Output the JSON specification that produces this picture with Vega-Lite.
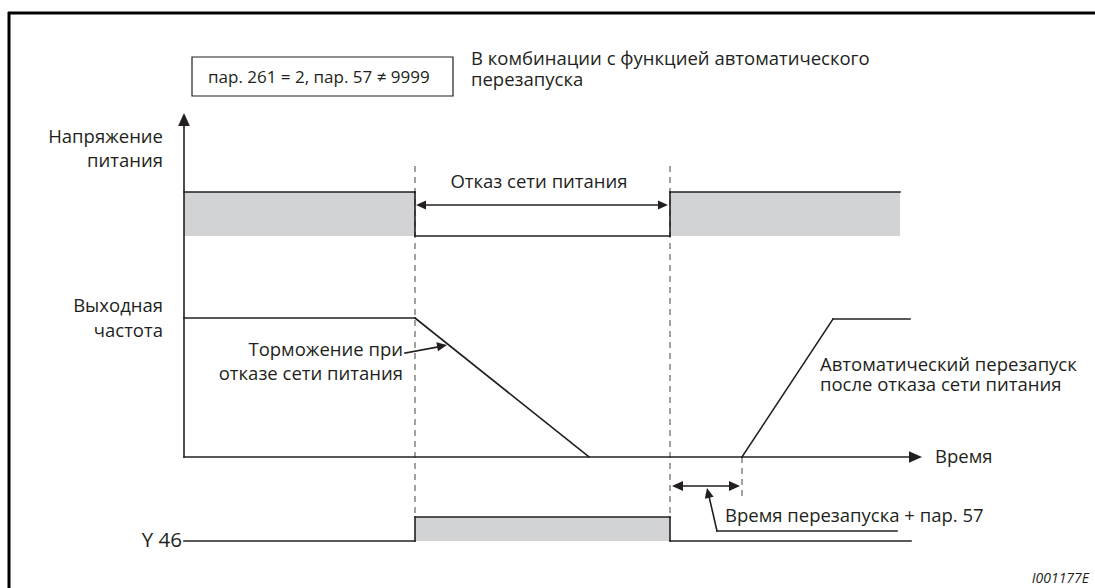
{
  "$schema": "https://vega.github.io/schema/vega-lite/v6.json",
  "usermeta": {"embedOptions": {"actions": false}},
  "width": 1095,
  "height": 588,
  "padding": 0,
  "autosize": "none",
  "background": "white",
  "config": {"view": {"stroke": "transparent", "strokeWidth": 0}, "font": "Open Sans"},
  "datasets": {
    "rects": [
      {"x": 184, "x2": 415, "y": 192, "y2": 236},
      {"x": 670, "x2": 900, "y": 192, "y2": 236},
      {"x": 415, "x2": 670, "y": 517, "y2": 541}
    ],
    "box": [{"x": 192, "x2": 453, "y": 57, "y2": 96}],
    "frame": [
      {"x": 9, "x2": 9, "y": 12, "y2": 588},
      {"x": 8, "x2": 1095, "y": 13, "y2": 13}
    ],
    "dashed": [
      {"x": 415, "x2": 415, "y": 166, "y2": 517},
      {"x": 670, "x2": 670, "y": 166, "y2": 517},
      {"x": 742, "x2": 742, "y": 457, "y2": 497}
    ],
    "solid": [
      {"x": 184, "x2": 184, "y": 124, "y2": 457},
      {"x": 184, "x2": 912, "y": 457, "y2": 457},
      {"x": 184, "x2": 415, "y": 192, "y2": 192},
      {"x": 415, "x2": 415, "y": 192, "y2": 236},
      {"x": 415, "x2": 670, "y": 236, "y2": 236},
      {"x": 670, "x2": 670, "y": 236, "y2": 192},
      {"x": 670, "x2": 900, "y": 192, "y2": 192},
      {"x": 184, "x2": 415, "y": 318, "y2": 318},
      {"x": 415, "x2": 589, "y": 318, "y2": 457},
      {"x": 742, "x2": 833, "y": 457, "y2": 319},
      {"x": 833, "x2": 910, "y": 319, "y2": 319},
      {"x": 420, "x2": 664, "y": 205, "y2": 205},
      {"x": 405, "x2": 443, "y": 353, "y2": 346},
      {"x": 676, "x2": 736, "y": 486, "y2": 486},
      {"x": 708, "x2": 717, "y": 492, "y2": 531},
      {"x": 717, "x2": 897, "y": 531, "y2": 531},
      {"x": 184, "x2": 415, "y": 541, "y2": 541},
      {"x": 415, "x2": 415, "y": 541, "y2": 517},
      {"x": 415, "x2": 670, "y": 517, "y2": 517},
      {"x": 670, "x2": 670, "y": 517, "y2": 541},
      {"x": 670, "x2": 911, "y": 541, "y2": 541}
    ],
    "heads": [
      {"x": 184, "y": 119.5, "ang": 270, "size": 169},
      {"x": 915.5, "y": 457, "ang": 0, "size": 169},
      {"x": 421, "y": 205, "ang": 180, "size": 100},
      {"x": 663, "y": 205, "ang": 0, "size": 100},
      {"x": 442.1, "y": 345.9, "ang": 349.7, "size": 100},
      {"x": 677.5, "y": 486, "ang": 180, "size": 121},
      {"x": 734.5, "y": 486, "ang": 0, "size": 121},
      {"x": 708.1, "y": 492.9, "ang": 257, "size": 100}
    ],
    "textL": [
      {"x": 208, "y": 83, "t": "пар. 261 = 2, пар. 57 ≠ 9999", "fs": 17},
      {"x": 471, "y": 65, "t": "В комбинации с функцией автоматического", "fs": 18.5},
      {"x": 471, "y": 86, "t": "перезапуска", "fs": 18.5},
      {"x": 820, "y": 371, "t": "Автоматический перезапуск", "fs": 18.5},
      {"x": 820, "y": 391, "t": "после отказа сети питания", "fs": 18.5},
      {"x": 935, "y": 463, "t": "Время", "fs": 18.5},
      {"x": 725, "y": 522, "t": "Время перезапуска + пар. 57", "fs": 18.5}
    ],
    "textR": [
      {"x": 163, "y": 143, "t": "Напряжение", "fs": 18.5},
      {"x": 163, "y": 167, "t": "питания", "fs": 18.5},
      {"x": 163, "y": 312, "t": "Выходная", "fs": 18.5},
      {"x": 163, "y": 337, "t": "частота", "fs": 18.5},
      {"x": 403, "y": 356, "t": "Торможение при", "fs": 18.5},
      {"x": 403, "y": 380, "t": "отказе сети питания", "fs": 18.5},
      {"x": 182, "y": 547, "t": "Y 46", "fs": 20.5}
    ],
    "textC": [
      {"x": 539, "y": 188, "t": "Отказ сети питания", "fs": 18.5}
    ],
    "textI": [
      {"x": 1089, "y": 583, "t": "I001177E", "fs": 14}
    ]
  },
  "layer": [
    {
      "data": {"name": "rects"},
      "mark": {"type": "rect", "fill": "#d1d3d4", "stroke": null},
      "encoding": {
        "x": {"field": "x", "type": "quantitative", "scale": {"domain": [0, 1095], "nice": false, "zero": false}, "axis": null},
        "x2": {"field": "x2"},
        "y": {"field": "y", "type": "quantitative", "scale": {"domain": [0, 588], "nice": false, "zero": false, "reverse": true}, "axis": null},
        "y2": {"field": "y2"}
      }
    },
    {
      "data": {"name": "box"},
      "mark": {"type": "rect", "fill": "white", "stroke": "#231f20", "strokeWidth": 1.2},
      "encoding": {
        "x": {"field": "x", "type": "quantitative", "axis": null},
        "x2": {"field": "x2"},
        "y": {"field": "y", "type": "quantitative", "axis": null},
        "y2": {"field": "y2"}
      }
    },
    {
      "data": {"name": "dashed"},
      "mark": {"type": "rule", "color": "#444444", "strokeWidth": 1, "strokeDash": [6, 5]},
      "encoding": {
        "x": {"field": "x", "type": "quantitative", "axis": null},
        "x2": {"field": "x2"},
        "y": {"field": "y", "type": "quantitative", "axis": null},
        "y2": {"field": "y2"}
      }
    },
    {
      "data": {"name": "solid"},
      "mark": {"type": "rule", "color": "#231f20", "strokeWidth": 1.6, "strokeCap": "square"},
      "encoding": {
        "x": {"field": "x", "type": "quantitative", "axis": null},
        "x2": {"field": "x2"},
        "y": {"field": "y", "type": "quantitative", "axis": null},
        "y2": {"field": "y2"}
      }
    },
    {
      "data": {"name": "frame"},
      "mark": {"type": "rule", "color": "#000000", "strokeWidth": 3},
      "encoding": {
        "x": {"field": "x", "type": "quantitative", "axis": null},
        "x2": {"field": "x2"},
        "y": {"field": "y", "type": "quantitative", "axis": null},
        "y2": {"field": "y2"}
      }
    },
    {
      "data": {"name": "heads"},
      "mark": {"type": "point", "shape": "M1,0L-1,-0.9L-1,0.9Z", "filled": true, "fill": "#231f20", "opacity": 1, "strokeWidth": 0},
      "encoding": {
        "x": {"field": "x", "type": "quantitative", "axis": null},
        "y": {"field": "y", "type": "quantitative", "axis": null},
        "angle": {"field": "ang", "type": "quantitative", "scale": null},
        "size": {"field": "size", "type": "quantitative", "scale": null, "legend": null}
      }
    },
    {
      "data": {"name": "textL"},
      "mark": {"type": "text", "align": "left", "baseline": "alphabetic", "color": "#231f20", "font": "Open Sans"},
      "encoding": {
        "x": {"field": "x", "type": "quantitative", "axis": null},
        "y": {"field": "y", "type": "quantitative", "axis": null},
        "text": {"field": "t"},
        "size": {"field": "fs", "type": "quantitative", "scale": null, "legend": null}
      }
    },
    {
      "data": {"name": "textR"},
      "mark": {"type": "text", "align": "right", "baseline": "alphabetic", "color": "#231f20", "font": "Open Sans"},
      "encoding": {
        "x": {"field": "x", "type": "quantitative", "axis": null},
        "y": {"field": "y", "type": "quantitative", "axis": null},
        "text": {"field": "t"},
        "size": {"field": "fs", "type": "quantitative", "scale": null, "legend": null}
      }
    },
    {
      "data": {"name": "textC"},
      "mark": {"type": "text", "align": "center", "baseline": "alphabetic", "color": "#231f20", "font": "Open Sans"},
      "encoding": {
        "x": {"field": "x", "type": "quantitative", "axis": null},
        "y": {"field": "y", "type": "quantitative", "axis": null},
        "text": {"field": "t"},
        "size": {"field": "fs", "type": "quantitative", "scale": null, "legend": null}
      }
    },
    {
      "data": {"name": "textI"},
      "mark": {"type": "text", "align": "right", "baseline": "alphabetic", "color": "#231f20", "font": "Open Sans", "fontStyle": "italic"},
      "encoding": {
        "x": {"field": "x", "type": "quantitative", "axis": null},
        "y": {"field": "y", "type": "quantitative", "axis": null},
        "text": {"field": "t"},
        "size": {"field": "fs", "type": "quantitative", "scale": null, "legend": null}
      }
    }
  ]
}
